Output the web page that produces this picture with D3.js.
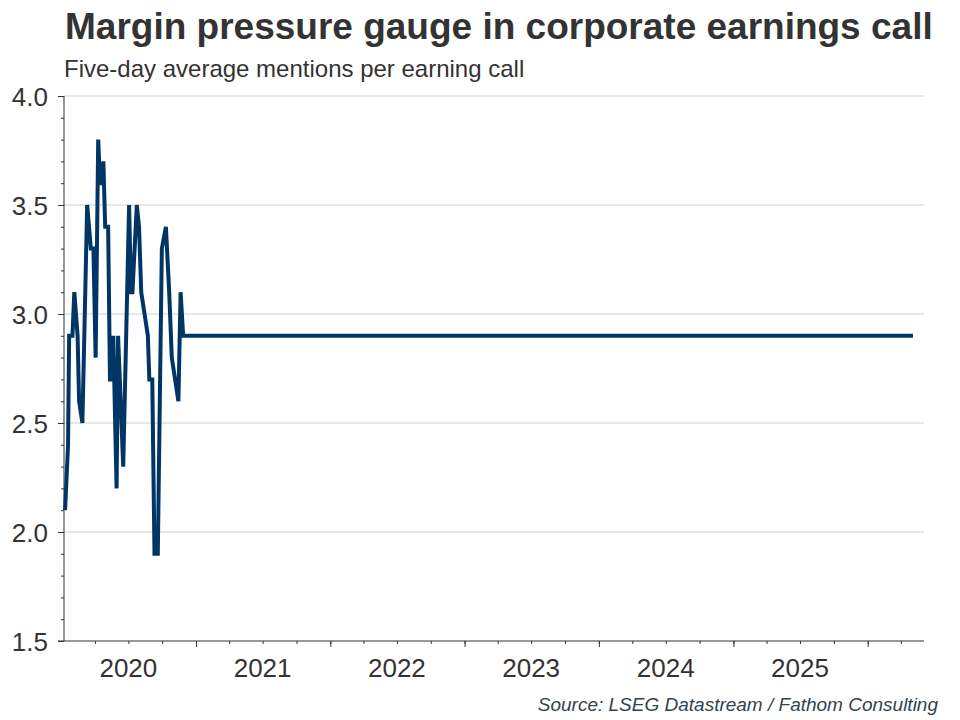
<!DOCTYPE html>
<html>
<head>
<meta charset="utf-8">
<script src="https://cdn.jsdelivr.net/npm/d3@7"></script>
<style>
  html, body { margin: 0; padding: 0; background: #fff; }
  svg { display: block; font-family: "Liberation Sans", Arial, sans-serif; }
</style>
</head>
<body>
<svg id="chart" width="960" height="720"></svg>
<script>
// ---- data ----
const dates = [
  "2020-01-11","2020-01-19","2020-01-22","2020-01-31","2020-02-05","2020-02-14","2020-02-18","2020-02-27",
  "2020-03-11","2020-03-21","2020-03-28","2020-04-03","2020-04-10","2020-04-15","2020-04-19","2020-04-24",
  "2020-04-29","2020-05-07","2020-05-12","2020-05-16","2020-05-21","2020-05-30","2020-06-03","2020-06-17",
  "2020-07-03","2020-07-08","2020-07-12","2020-07-24","2020-07-30","2020-08-05","2020-08-23","2020-08-27",
  "2020-09-04","2020-09-10","2020-09-19","2020-09-30","2020-10-11","2020-10-20","2020-10-27","2020-11-14",
  "2020-11-20","2020-11-27","2026-05-04"
];
const values = [
  2.1, 2.4, 2.9, 2.9, 3.1, 2.9, 2.6, 2.5,
  3.5, 3.3, 3.3, 2.8, 3.8, 3.6, 3.6, 3.7,
  3.4, 3.4, 2.7, 2.7, 2.9, 2.2, 2.9, 2.3,
  3.5, 3.1, 3.1, 3.5, 3.4, 3.1, 2.9, 2.7,
  2.7, 1.9, 1.9, 3.3, 3.4, 3.1, 2.8, 2.6,
  3.1, 2.9, 2.9
];
const yTicks = [1.5, 2.0, 2.5, 3.0, 3.5, 4.0];
const yearLabels = ["2020","2021","2022","2023","2024","2025"];
const xDomain = ["2020-01-08", "2026-06-03"];
const yDomain = [1.5, 4.0];

const title = "Margin pressure gauge in corporate earnings call";
const subtitle = "Five-day average mentions per earning call";
const source = "Source: LSEG Datastream / Fathom Consulting";

// ---- layout ----
const svg = d3.select("#chart");
const parse = d3.utcParse("%Y-%m-%d");
const m = { left: 64, right: 924, top: 96, bottom: 641 };
const textCol = "#333333";

const x = d3.scaleUtc().domain(xDomain.map(parse)).range([m.left, m.right]);
const y = d3.scaleLinear().domain(yDomain).range([m.bottom, m.top]);

// gridlines
svg.append("g")
  .selectAll("line")
  .data(yTicks.filter(v => v > yDomain[0]))
  .join("line")
  .attr("x1", m.left).attr("x2", m.right)
  .attr("y1", d => y(d)).attr("y2", d => y(d))
  .attr("stroke", "#d0d0d0").attr("stroke-width", 1);

// y axis minor ticks
const yMinor = d3.range(15, 41).map(v => v / 10);
const yAxisMinor = d3.axisLeft(y).tickValues(yMinor).tickSize(3).tickFormat("");
const gyMinor = svg.append("g").attr("transform", `translate(${m.left},0)`).call(yAxisMinor);
gyMinor.select(".domain").remove();
gyMinor.selectAll("line").attr("stroke", textCol);

// y axis major
const yAxis = d3.axisLeft(y).tickValues(yTicks).tickSize(6).tickPadding(10).tickFormat(d3.format(".1f"));
const gy = svg.append("g").attr("transform", `translate(${m.left},0)`).call(yAxis);
gy.select(".domain").attr("stroke", textCol).attr("d", `M0,${m.top}V${m.bottom}`);
gy.selectAll("line").attr("stroke", textCol);
gy.selectAll("text").attr("fill", textCol).style("font-size", "26px")
  .style("font-family", "'Liberation Sans', Arial, sans-serif").attr("dy", "0.36em");

// x axis
const quarters = d3.utcMonth.every(3).range(x.domain()[0], x.domain()[1]);
const years = d3.utcYear.range(x.domain()[0], x.domain()[1]);
const xMinor = d3.axisBottom(x).tickValues(quarters).tickSize(3).tickFormat("");
const gxMinor = svg.append("g").attr("transform", `translate(0,${m.bottom})`).call(xMinor);
gxMinor.select(".domain").remove();
gxMinor.selectAll("line").attr("stroke", textCol);

const xMajor = d3.axisBottom(x).tickValues(years).tickSize(6).tickFormat("");
const gx = svg.append("g").attr("transform", `translate(0,${m.bottom})`).call(xMajor);
gx.select(".domain").attr("stroke", textCol).attr("d", `M${m.left - 6},0H${m.right}`);
gx.selectAll("line").attr("stroke", textCol);

// year labels centred mid-year
svg.append("g")
  .selectAll("text")
  .data(yearLabels)
  .join("text")
  .attr("x", d => x(parse(d + "-07-01")))
  .attr("y", 677)
  .attr("text-anchor", "middle")
  .attr("fill", textCol)
  .style("font-size", "26px")
  .text(d => d);

// line
const data = dates.map((d, i) => ({ date: parse(d), value: values[i] }));
const line = d3.line().x(d => x(d.date)).y(d => y(d.value));
svg.append("path")
  .datum(data)
  .attr("d", line)
  .attr("fill", "none")
  .attr("stroke", "#003566")
  .attr("stroke-width", 4)
  .attr("stroke-linejoin", "miter")
  .attr("stroke-miterlimit", 4);

// titles
svg.append("text").attr("x", 65).attr("y", 39)
  .attr("fill", textCol).style("font-size", "37px").style("font-weight", "bold")
  .text(title);
svg.append("text").attr("x", 64).attr("y", 77)
  .attr("fill", textCol).style("font-size", "24px")
  .text(subtitle);
svg.append("text").attr("x", 938).attr("y", 711)
  .attr("text-anchor", "end")
  .attr("fill", "#34434c").style("font-size", "19px").style("font-style", "italic")
  .text(source);
</script>
</body>
</html>
